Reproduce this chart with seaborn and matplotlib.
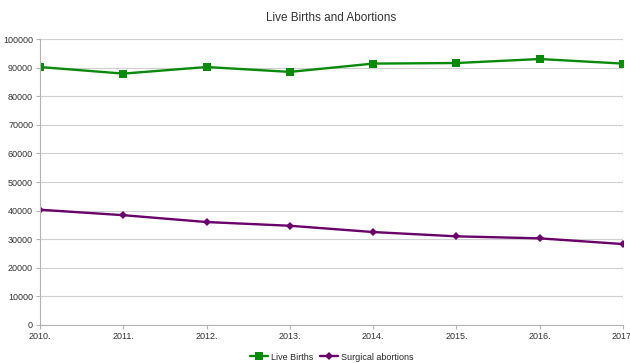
import matplotlib
matplotlib.use("Agg")
import matplotlib.pyplot as plt
import seaborn as sns
import pandas as pd

years = [2010, 2011, 2012, 2013, 2014, 2015, 2016, 2017]
year_labels = ["2010.", "2011.", "2012.", "2013.", "2014.", "2015.", "2016.", "2017."]
live_births = [90200, 87900, 90200, 88500, 91400, 91600, 93000, 91400]
surgical_abortions = [40300, 38400, 36000, 34700, 32500, 31000, 30300, 28300]

sns.set_theme(style="white")
plt.rcParams["font.family"] = ["Liberation Sans", "DejaVu Sans"]

df = pd.DataFrame({
    "year": years * 2,
    "value": live_births + surgical_abortions,
    "series": ["Live Births"] * len(years) + ["Surgical abortions"] * len(years),
})

fig = plt.figure(figsize=(6.3, 3.63), dpi=100)
ax = fig.add_axes([40 / 630, 38 / 363, 583 / 630, 286 / 363])

sns.lineplot(
    data=df, x="year", y="value", hue="series", style="series",
    palette={"Live Births": "#0a8a0a", "Surgical abortions": "#6a006a"},
    markers={"Live Births": "s", "Surgical abortions": "D"},
    dashes=False, linewidth=1.7, markersize=5.5, markeredgewidth=0, ax=ax,
)
# smaller diamond for the second series
for line in ax.get_lines():
    if line.get_marker() == "D":
        line.set_markersize(4)

ax.set_xlim(2010, 2017)
ax.set_ylim(0, 100000)
ax.set_yticks(range(0, 100001, 10000))
ax.set_yticklabels([str(v) for v in range(0, 100001, 10000)], fontsize=6.5, color="#333333")
ax.set_xticks(years)
ax.set_xticklabels(year_labels, fontsize=6.5, color="#333333")
ax.set_xlabel("")
ax.set_ylabel("")
ax.grid(axis="y", color="#d0d0d0", linewidth=0.8)
ax.axvline(2017, color="#d0d0d0", linewidth=0.8)
for side in ["top", "right"]:
    ax.spines[side].set_visible(False)
for side in ["left", "bottom"]:
    ax.spines[side].set_color("#b3b3b3")
    ax.spines[side].set_linewidth(0.8)
ax.tick_params(axis="both", length=3, width=0.8, color="#b3b3b3", pad=2, bottom=True, left=True)

ax.set_title("Live Births and Abortions", fontsize=8.5, color="#333333", pad=13)

handles, labels = ax.get_legend_handles_labels()
ax.legend(
    handles, labels, loc="center", bbox_to_anchor=(0.5, -0.112), ncol=2,
    frameon=False, fontsize=6.5, handlelength=2, handletextpad=0.3,
    columnspacing=0.8, borderaxespad=0,
)

fig.savefig("out.png", dpi=100, facecolor="white")
